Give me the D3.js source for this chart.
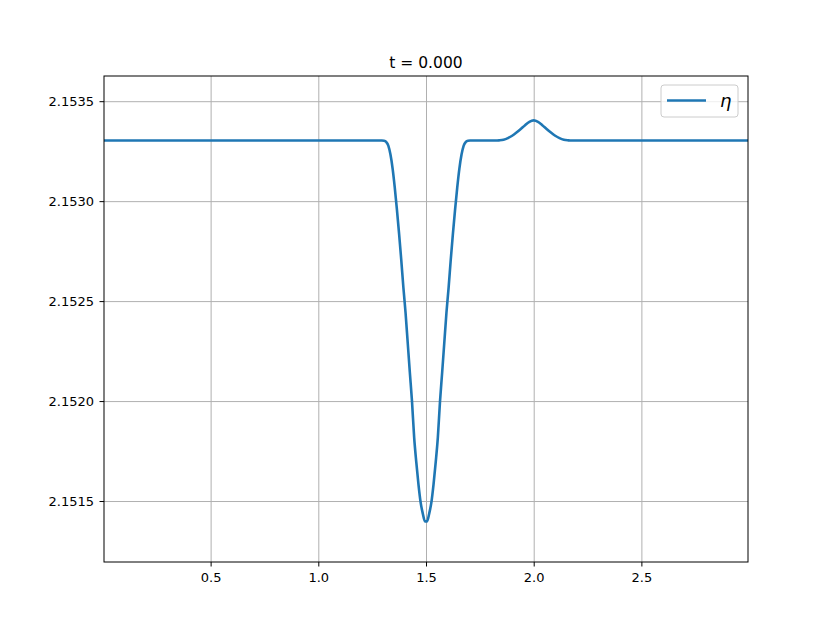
<!DOCTYPE html>
<html>
<head>
<meta charset="utf-8">
<script src="https://cdn.jsdelivr.net/npm/d3@7"></script>
<style>
  body { margin: 0; background: #fff; }
  svg { display: block; font-family: "DejaVu Sans", sans-serif; }
  .grid line { stroke: #b0b0b0; stroke-width: 1; }
  .grid .domain { display: none; }
  .axis text { font-size: 13px; font-family: "DejaVu Sans", sans-serif; fill: #000; }
  .axis line { stroke: #000; }
</style>
</head>
<body>
<div id="chart"></div>
<script>
// values
const xs = [0.005, 1.295,
  1.305, 1.315, 1.325, 1.335, 1.345, 1.355, 1.365, 1.375, 1.385, 1.395,
  1.405, 1.415, 1.425, 1.435, 1.445, 1.455, 1.465, 1.475, 1.485, 1.495,
  1.505, 1.515, 1.525, 1.535, 1.545, 1.555, 1.565, 1.575, 1.585, 1.595,
  1.605, 1.615, 1.625, 1.635, 1.645, 1.655, 1.665, 1.675, 1.685, 1.695,
  1.705, 1.82, 1.84, 1.86, 1.88, 1.90, 1.92, 1.94, 1.96, 1.98, 2.00,
  2.02, 2.04, 2.06, 2.08, 2.10, 2.12, 2.14, 2.16, 2.18, 2.995];
const eta = [2.153303, 2.153303,
  2.153302, 2.153296, 2.153278, 2.153233, 2.153163, 2.153068, 2.152958, 2.152838, 2.152708, 2.152568,
  2.152443, 2.152293, 2.152143, 2.151998, 2.151818, 2.151693, 2.151583, 2.151493, 2.151438, 2.151398,
  2.151398, 2.151438, 2.151493, 2.151583, 2.151693, 2.151818, 2.151998, 2.152143, 2.152293, 2.152443,
  2.152568, 2.152708, 2.152838, 2.152958, 2.153068, 2.153163, 2.153233, 2.153278, 2.153296, 2.153302,
  2.153303, 2.153303, 2.153304, 2.153307, 2.153315, 2.153327, 2.153343, 2.153361, 2.153380, 2.153397, 2.153404,
  2.153397, 2.153380, 2.153361, 2.153343, 2.153327, 2.153315, 2.153307, 2.153304, 2.153303, 2.153303];
const xTicks = [0.5, 1.0, 1.5, 2.0, 2.5];
const yTicks = [2.1515, 2.1520, 2.1525, 2.1530, 2.1535];
const title = 't = 0.000';
const seriesName = 'η';

const width = 831;
const height = 632;
const area = { left: 104, right: 748, top: 76, bottom: 562 };

const data = xs.map((x, i) => ({ x, y: eta[i] }));

const svg = d3.select('#chart')
  .append('svg')
  .attr('width', width)
  .attr('height', height);

const xScale = d3.scaleLinear().domain([0.005, 2.995]).range([area.left, area.right]);
const yScale = d3.scaleLinear().domain([2.151195, 2.153626]).range([area.bottom, area.top]);

// gridlines
svg.append('g')
  .attr('class', 'grid')
  .attr('transform', `translate(0, ${area.bottom})`)
  .call(d3.axisBottom(xScale).tickValues(xTicks).tickFormat('').tickSize(-(area.bottom - area.top)));

svg.append('g')
  .attr('class', 'grid')
  .attr('transform', `translate(${area.left}, 0)`)
  .call(d3.axisLeft(yScale).tickValues(yTicks).tickFormat('').tickSize(-(area.right - area.left)));

// the line
svg.append('clipPath').attr('id', 'clip')
  .append('rect')
  .attr('x', area.left).attr('y', area.top)
  .attr('width', area.right - area.left).attr('height', area.bottom - area.top);

svg.append('path')
  .datum(data)
  .attr('clip-path', 'url(#clip)')
  .attr('fill', 'none')
  .attr('stroke', '#1f77b4')
  .attr('stroke-width', 2.6)
  .attr('stroke-linejoin', 'round')
  .attr('d', d3.line().x(d => xScale(d.x)).y(d => yScale(d.y)).curve(d3.curveMonotoneX));

// axes
const xAxis = svg.append('g')
  .attr('class', 'axis')
  .attr('transform', `translate(0, ${area.bottom})`)
  .call(d3.axisBottom(xScale).tickValues(xTicks).tickFormat(d3.format('.1f')).tickSize(4.5).tickPadding(6.5));

const yAxis = svg.append('g')
  .attr('class', 'axis')
  .attr('transform', `translate(${area.left}, 0)`)
  .call(d3.axisLeft(yScale).tickValues(yTicks).tickFormat(d3.format('.4f')).tickSize(4.5).tickPadding(5.5));

xAxis.select('.domain').remove();
yAxis.select('.domain').remove();

// frame
svg.append('rect')
  .attr('x', area.left).attr('y', area.top)
  .attr('width', area.right - area.left).attr('height', area.bottom - area.top)
  .attr('fill', 'none')
  .attr('stroke', '#000')
  .attr('stroke-width', 1);

// title
svg.append('text')
  .attr('x', (area.left + area.right) / 2)
  .attr('y', area.top - 8)
  .attr('text-anchor', 'middle')
  .style('font-size', '15.5px')
  .text(title);

// legend
const legend = svg.append('g').attr('transform', 'translate(661, 85)');
legend.append('rect')
  .attr('width', 77).attr('height', 32)
  .attr('rx', 3)
  .attr('fill', '#fff').attr('fill-opacity', 0.8)
  .attr('stroke', '#cccccc').attr('stroke-width', 1);
legend.append('line')
  .attr('x1', 6).attr('x2', 45)
  .attr('y1', 15.5).attr('y2', 15.5)
  .attr('stroke', '#1f77b4').attr('stroke-width', 2.6);
legend.append('text')
  .attr('x', 59).attr('y', 22)
  .style('font-size', '18px')
  .style('font-style', 'italic')
  .text(seriesName);
</script>
</body>
</html>
